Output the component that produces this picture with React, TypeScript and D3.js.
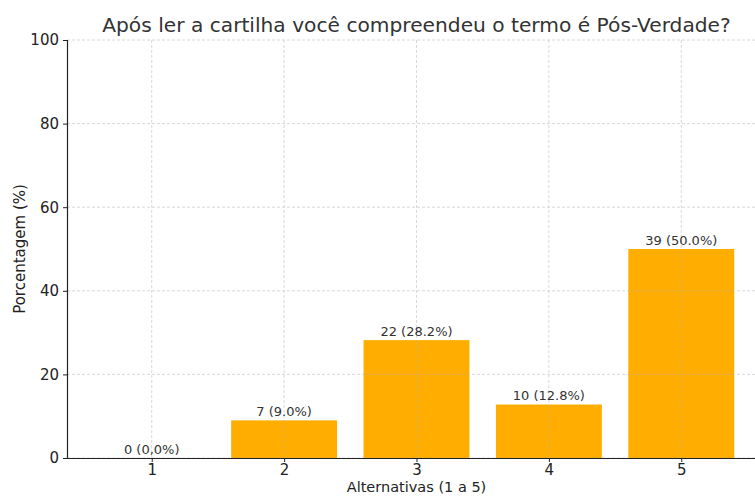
import React, { useEffect, useRef } from "react";
import * as d3 from "d3";

const categories = ["1", "2", "3", "4", "5"];
const percents = [0, 9.0, 28.2, 12.8, 50.0];
const barLabels = ["0 (0,0%)", "7 (9.0%)", "22 (28.2%)", "10 (12.8%)", "39 (50.0%)"];
const yTicks = [0, 20, 40, 60, 80, 100];

export default function App() {
  const ref = useRef<SVGSVGElement>(null);

  useEffect(() => {
    const width = 755;
    const left = 67;
    const top = 40;
    const bottom = 458;
    const font = "DejaVu Sans, sans-serif";

    const svg = d3.select(ref.current);
    svg.selectAll("*").remove();

    // matplotlib-like: bars at 1..5, width 0.8, 5% margins
    const x = d3.scaleLinear().domain([0.36, 5.64]).range([left, 766]);
    const y = d3.scaleLinear().domain([0, 100]).range([bottom, top]);
    const bw = x(1.8) - x(1);

    svg
      .selectAll("rect.bar")
      .data(percents)
      .enter()
      .append("rect")
      .attr("class", "bar")
      .attr("x", (d, i) => x(i + 1) - bw / 2)
      .attr("y", (d) => y(d))
      .attr("width", bw)
      .attr("height", (d) => bottom - y(d))
      .attr("fill", "#ffae00");

    // grid
    const grid = svg
      .append("g")
      .attr("stroke", "#b0b0b0")
      .attr("stroke-width", 0.8)
      .attr("stroke-dasharray", "3,2")
      .attr("opacity", 0.6);
    yTicks.forEach((t) => {
      grid.append("line").attr("x1", left).attr("x2", width).attr("y1", y(t)).attr("y2", y(t));
    });
    categories.forEach((c, i) => {
      grid.append("line").attr("x1", x(i + 1)).attr("x2", x(i + 1)).attr("y1", top).attr("y2", bottom);
    });

    // axes
    const xAxis = svg
      .append("g")
      .attr("transform", `translate(0,${bottom})`)
      .call(
        d3
          .axisBottom(x)
          .tickValues([1, 2, 3, 4, 5])
          .tickFormat((d, i) => categories[i])
          .tickSize(4)
          .tickPadding(2)
      );
    const yAxis = svg
      .append("g")
      .attr("transform", `translate(${left},0)`)
      .call(d3.axisLeft(y).tickValues(yTicks).tickSize(4).tickPadding(4));

    [xAxis, yAxis].forEach((a) => {
      a.select(".domain").attr("stroke", "#222").attr("stroke-width", 1.2);
      a.selectAll(".tick line").attr("stroke", "#222");
      a.selectAll(".tick text").attr("fill", "#222").style("font-family", font).style("font-size", "15px");
    });
    xAxis.select(".domain").attr("d", `M${left},0.5H${766}`);
    yAxis.select(".domain").attr("d", `M0.5,${bottom}V${top}`);

    // bar labels
    svg
      .selectAll("text.val")
      .data(barLabels)
      .enter()
      .append("text")
      .attr("class", "val")
      .attr("x", (d, i) => x(i + 1))
      .attr("y", (d, i) => y(percents[i]) - 4)
      .attr("text-anchor", "middle")
      .attr("fill", "#333")
      .style("font-family", font)
      .style("font-size", "13px")
      .text((d) => d);

    // title and axis labels
    svg
      .append("text")
      .attr("x", 416.5)
      .attr("y", 32)
      .attr("text-anchor", "middle")
      .attr("fill", "#333")
      .style("font-family", font)
      .style("font-size", "20.2px")
      .text("Após ler a cartilha você compreendeu o termo é Pós-Verdade?");

    svg
      .append("text")
      .attr("x", 416.5)
      .attr("y", 492)
      .attr("text-anchor", "middle")
      .attr("fill", "#222")
      .style("font-family", font)
      .style("font-size", "14.5px")
      .text("Alternativas (1 a 5)");

    svg
      .append("text")
      .attr("transform", `translate(25,${(top + bottom) / 2}) rotate(-90)`)
      .attr("text-anchor", "middle")
      .attr("fill", "#222")
      .style("font-family", font)
      .style("font-size", "15px")
      .text("Porcentagem (%)");
  }, []);

  return (
    <svg
      ref={ref}
      width={755}
      height={496}
      style={{ position: "absolute", left: 0, top: 0, background: "#fff" }}
    />
  );
}
